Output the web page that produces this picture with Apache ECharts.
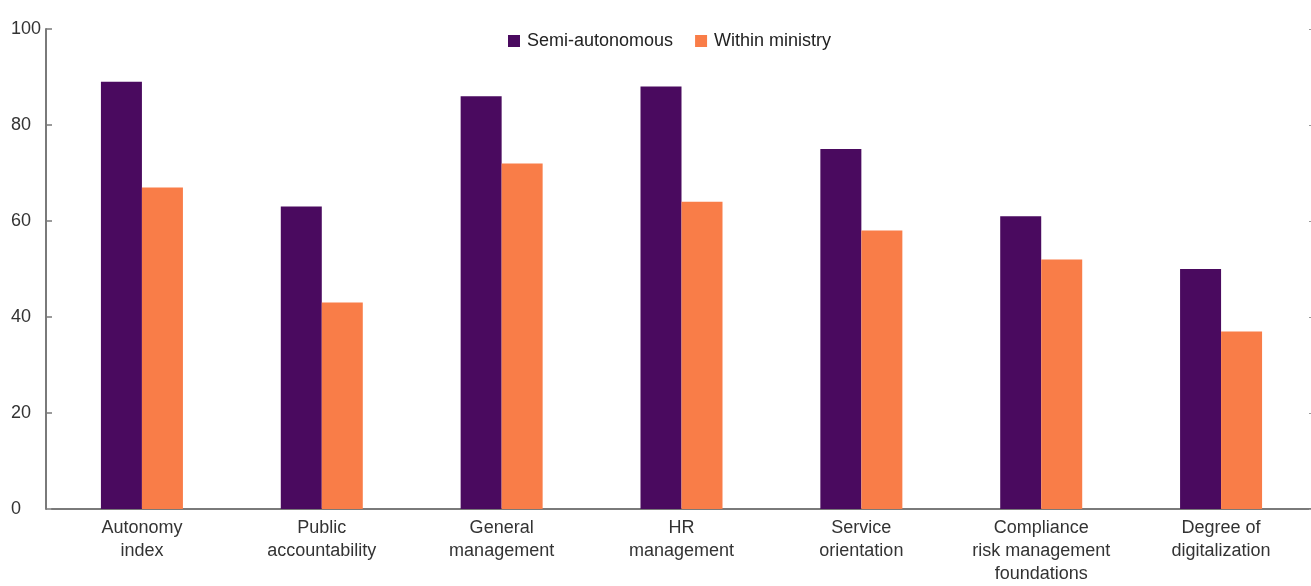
<!DOCTYPE html>
<html>
<head>
<meta charset="utf-8">
<script src="https://cdn.jsdelivr.net/npm/echarts@6/dist/echarts.min.js"></script>
<style>
  html, body { margin: 0; padding: 0; background: #ffffff; }
  #chart { width: 1311px; height: 586px; }
</style>
</head>
<body>
<div id="chart"></div>
<script>
// Indicator categories (x axis)
const categories = [
  'Autonomy\nindex',
  'Public\naccountability',
  'General\nmanagement',
  'HR\nmanagement',
  'Service\norientation',
  'Compliance\nrisk management\nfoundations',
  'Degree of\ndigitalization'
];

// Series values
const semiAutonomous = [89, 63, 86, 88, 75, 61, 50];
const withinMinistry = [67, 43, 72, 64, 58, 52, 37];

// Value axis ticks
const yTicks = [0, 20, 40, 60, 80, 100];

const FONT = '"Liberation Sans", Arial, sans-serif';
const AXIS_GREY = '#7a7a7a';

const chart = echarts.init(document.getElementById('chart'), null, { renderer: 'canvas' });

chart.setOption({
  animation: false,
  textStyle: { fontFamily: FONT },
  legend: {
    top: 27,
    left: 503,
    itemWidth: 12,
    itemHeight: 12,
    itemGap: 22,
    icon: 'rect',
    textStyle: { fontFamily: FONT, fontSize: 18, color: '#222', padding: [0, 0, 0, 2] },
    data: ['Semi-autonomous', 'Within ministry']
  },
  grid: { left: 52, right: 0, top: 29, bottom: 77 },
  xAxis: {
    type: 'category',
    data: categories,
    axisLine: { lineStyle: { color: AXIS_GREY, width: 2 } },
    axisTick: { inside: true, length: 6, lineStyle: { color: AXIS_GREY, width: 1.5 } },
    axisLabel: {
      interval: 0,
      fontFamily: FONT, fontSize: 18, color: '#333', lineHeight: 23, margin: 8
    }
  },
  yAxis: [
    {
      type: 'value',
      min: yTicks[0],
      max: yTicks[yTicks.length - 1],
      interval: 20,
      offset: 6,
      splitLine: { show: false },
      axisLine: { show: true, lineStyle: { color: AXIS_GREY, width: 2 } },
      axisTick: { show: true, inside: true, length: 6, lineStyle: { color: AXIS_GREY, width: 1.5 } },
      axisLabel: {
        fontFamily: FONT, fontSize: 18, color: '#333',
        align: 'left', margin: 35, padding: [0, 0, 8, 0]
      }
    },
    {
      type: 'value',
      position: 'right',
      min: yTicks[0],
      max: yTicks[yTicks.length - 1],
      interval: 20,
      splitLine: { show: false },
      axisLine: { show: false },
      axisTick: { show: true, inside: true, length: 2, lineStyle: { color: '#999', width: 1 } },
      axisLabel: { show: false }
    }
  ],
  series: [
    {
      name: 'Semi-autonomous',
      type: 'bar',
      data: semiAutonomous,
      barWidth: 41,
      barGap: '0%',
      itemStyle: { color: '#4a0a5f' }
    },
    {
      name: 'Within ministry',
      type: 'bar',
      data: withinMinistry,
      barWidth: 41,
      barGap: '0%',
      itemStyle: { color: '#f97d48' }
    }
  ]
});
</script>
</body>
</html>
